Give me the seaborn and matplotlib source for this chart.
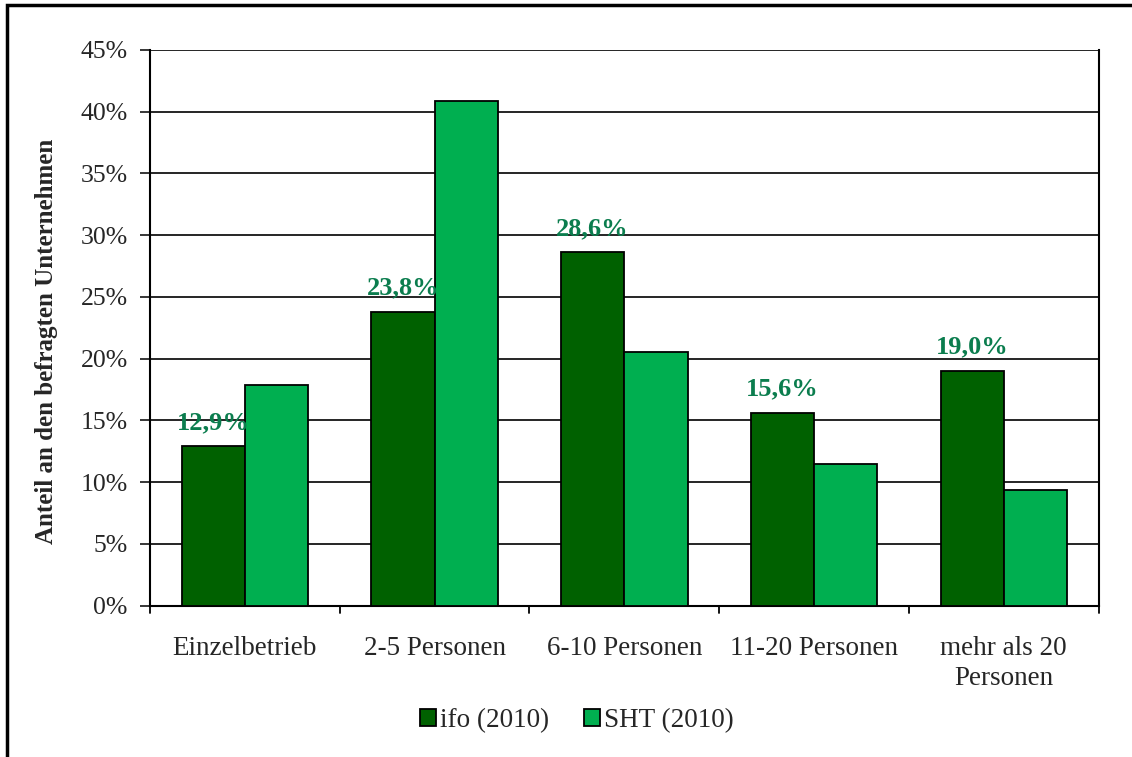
import pandas as pd
import matplotlib.pyplot as plt
import seaborn as sns
from matplotlib.patches import Rectangle

# Values (percent)
categories = ["Einzelbetrieb", "2-5 Personen", "6-10 Personen", "11-20 Personen", "mehr als 20\nPersonen"]
ifo_2010 = [12.9, 23.8, 28.6, 15.6, 19.0]
sht_2010 = [17.9, 40.9, 20.5, 11.5, 9.4]
series = ["ifo (2010)", "SHT (2010)"]
colors = ["#006100", "#00AF50"]

df = pd.DataFrame({
    "Kategorie": categories * 2,
    "Anteil": ifo_2010 + sht_2010,
    "Quelle": [series[0]] * len(categories) + [series[1]] * len(categories),
})

sns.set_style("white")
plt.rcParams["font.family"] = ["Liberation Serif", "DejaVu Serif"]

fig = plt.figure(figsize=(11.32, 7.57), dpi=100)
ax = fig.add_axes([0.1325, 0.2, 0.838, 0.734])

sns.barplot(data=df, x="Kategorie", y="Anteil", hue="Quelle", palette=colors,
            width=2/3, edgecolor="black", linewidth=1.3, saturation=1, ax=ax, zorder=3)

# data labels above ifo bars
for i, v in enumerate(ifo_2010):
    ax.text(i - 1/6, v + 1.0, f"{v:.1f}%".replace(".", ","), ha="center", va="bottom",
            color="#0B7D4E", fontsize=19, fontweight="bold", zorder=4)

ax.set_ylim(0, 45)
ax.set_yticks(range(0, 46, 5))
ax.set_yticklabels([f"{t}%" for t in range(0, 46, 5)], fontsize=18.5)
ax.set_xlim(-0.5, len(categories) - 0.5)
ax.set_xticks(range(len(categories)))
ax.set_xticklabels(categories, fontsize=19.5, linespacing=1.25)
ax.tick_params(axis="x", length=0, pad=22)
ax.tick_params(axis="y", left=True, length=7, width=1.3, direction="out", pad=9)
# category separator ticks
for b in [x - 0.5 for x in range(len(categories) + 1)]:
    ax.plot([b, b], [0, -0.014], transform=ax.get_xaxis_transform(), color="black",
            lw=1.3, clip_on=False)

ax.yaxis.grid(True, color="black", lw=1.2, zorder=0)
ax.set_axisbelow(True)
for s in ["left", "bottom", "right"]:
    ax.spines[s].set_color("black")
    ax.spines[s].set_linewidth(1.5)
ax.spines["top"].set_visible(False)

ax.set_xlabel("")
ax.set_ylabel("Anteil an den befragten Unternehmen", fontsize=18, fontweight="bold")
ax.yaxis.set_label_coords(-0.097, 0.475)

handles, labels = ax.get_legend_handles_labels()
ax.legend(handles, labels, loc="upper center", bbox_to_anchor=(0.45, -0.14), ncol=2,
          frameon=False, fontsize=19.5, handlelength=0.6, handleheight=0.6,
          handletextpad=0.15, columnspacing=1.3)

fig.patches.append(Rectangle((0.0065, -0.05), 1.1, 1.0434, transform=fig.transFigure,
                             fill=False, edgecolor="black", lw=2.5))

plt.savefig("out.png", dpi=100)
